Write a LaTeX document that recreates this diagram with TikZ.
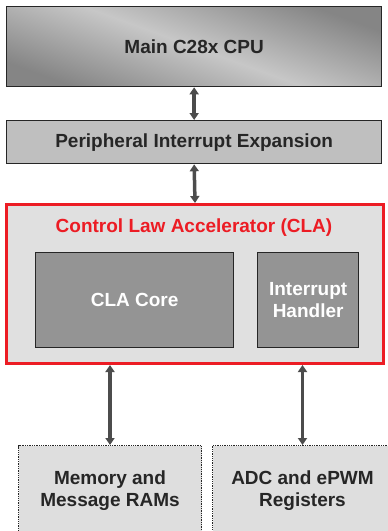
\documentclass[tikz,border=0pt]{standalone}
\usepackage{fontspec}
\setmainfont{Liberation Sans}
\usetikzlibrary{arrows.meta}

\definecolor{claRed}{HTML}{EC1C24}
\definecolor{txtDark}{HTML}{262626}

\tikzset{
  blk/.style={draw=txtDark, line width=1.3pt, anchor=north west, inner sep=0pt,
    text=txtDark, align=center, font=\bfseries\fontsize{19}{22}\selectfont},
  corebox/.style={blk, fill=black!42, text=white},
  extbox/.style={blk, fill=black!13, densely dotted, line width=1pt},
  link/.style={draw=black!70, line width=3.5pt, <->,
    >={Triangle[width=9pt,length=7pt]}}
}

\begin{document}
\begin{tikzpicture}[x=1pt,y=-1pt]
  \useasboundingbox (0,0) rectangle (388,531);
  \clip (0,0) rectangle (388,531);

  % top of the stack
  \node[blk, minimum width=375pt, minimum height=80pt,
    top color=black!48, bottom color=black!48, middle color=black!22, shading angle=-20] (cpu) at (6,6) {Main C28x CPU};
  \node[blk, fill=black!25, minimum width=375pt, minimum height=43pt] (pie) at (6,120) {Peripheral Interrupt Expansion};

  % the accelerator
  \node[blk, draw=claRed, line width=3pt, fill=black!12, minimum width=377pt, minimum height=159pt] (cla) at (5,203) {};
  \node[font=\bfseries\fontsize{19}{22}\selectfont, text=claRed] (clatitle) at (194,228) {Control Law Accelerator (CLA)};
  \node[corebox, minimum width=198pt, minimum height=95pt] (core) at (35,252) {CLA Core};
  \node[corebox, minimum width=101pt, minimum height=95pt] (handler) at (257,252) {Interrupt\\Handler};

  % outside the CLA
  \node[extbox, minimum width=183pt, minimum height=90pt] (mem) at (18,445) {Memory and\\Message RAMs};
  \node[extbox, minimum width=180pt, minimum height=90pt] (adc) at (212,445) {ADC and ePWM\\Registers};

  \draw[link] (cpu.south) -- (pie.north);
  \draw[link] (pie.south) -- (cla.north);
  \draw[link] (mem.north |- cla.south) -- (mem.north);
  \draw[link] (adc.north |- cla.south) -- (adc.north);
\end{tikzpicture}
\end{document}
